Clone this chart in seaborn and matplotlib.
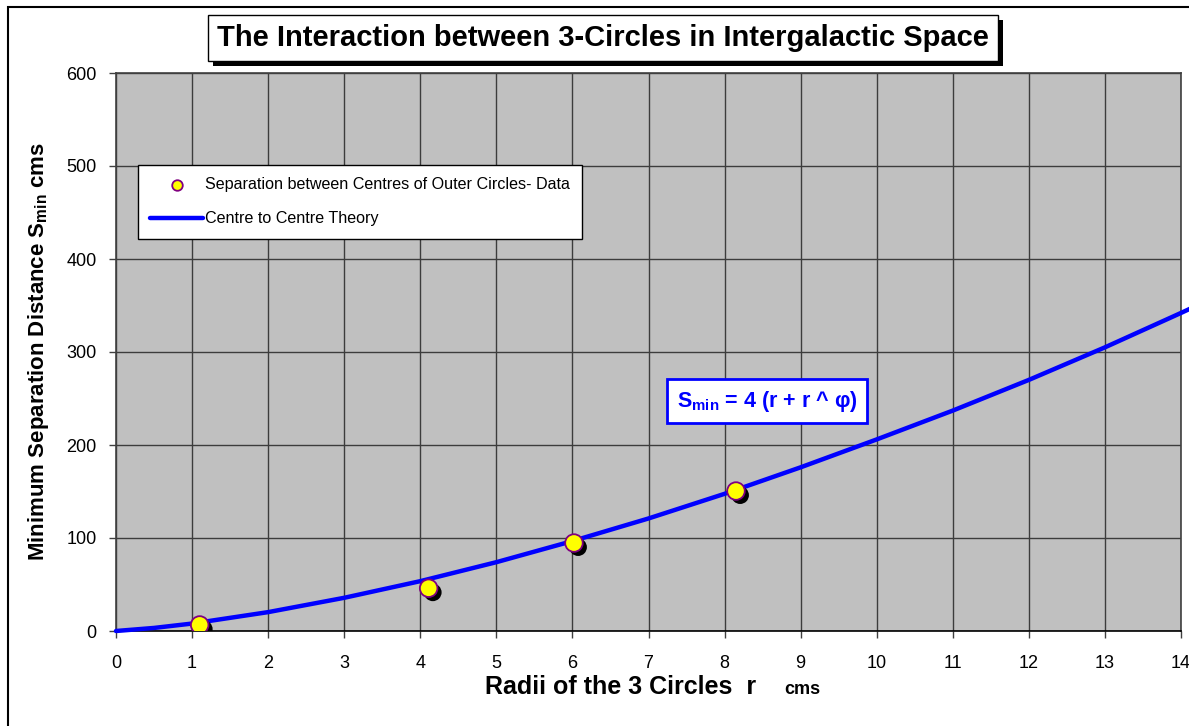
import matplotlib
matplotlib.use("Agg")
import matplotlib.pyplot as plt
import matplotlib.patheffects as pe
from matplotlib.patches import Rectangle
import seaborn as sns

# data
radius_data = [1.10, 4.11, 6.02, 8.15]
sep_data = [6.5, 46, 94.6, 150.5]

# theory curve, read at each radius (extends a little past the right edge)
radius_theory = [0, 0.5, 1, 2, 3, 4, 5, 6, 7, 8, 9, 10, 11, 12, 13, 14, 14.5]
sep_theory = [0, 3.3, 8, 20.3, 35.7, 53.6, 74, 96.7, 121, 147.5, 176, 206, 237, 270, 305, 342, 361]

x_ticks = list(range(0, 15))
y_ticks = [0, 100, 200, 300, 400, 500, 600]

sns.set_style("ticks")
plt.rcParams['font.family'] = ['Liberation Sans', 'DejaVu Sans']
plt.rcParams['mathtext.fontset'] = 'custom'
plt.rcParams['mathtext.rm'] = 'Liberation Sans'
plt.rcParams['mathtext.bf'] = 'Liberation Sans:bold'
plt.rcParams['text.color'] = 'black'
plt.rcParams['axes.labelcolor'] = 'black'
plt.rcParams['xtick.color'] = 'black'
plt.rcParams['ytick.color'] = 'black'

fig = plt.figure(figsize=(11.89, 7.26), dpi=100)
ax = fig.add_axes([116/1189, 1 - 631/726, (1181-116)/1189, (631-73)/726])
ax.set_facecolor('#c0c0c0')

# theory line
sns.lineplot(x=radius_theory, y=sep_theory, ax=ax, color='#0000ff', linewidth=3.2,
             label='Centre to Centre Theory', clip_on=False, zorder=3)

# data points with a drop shadow
pts = sns.scatterplot(x=radius_data, y=sep_data, ax=ax, s=160, color='#ffff00',
                      edgecolor='#800080', linewidth=1.3, zorder=4,
                      label='Separation between Centres of Outer Circles- Data')
pts.collections[-1].set_path_effects([
    pe.SimplePatchShadow(offset=(3, -3), shadow_rgbFace='black', alpha=1),
    pe.Normal()])

ax.set_xlim(0, 14)
ax.set_ylim(0, 600)
ax.set_xticks(x_ticks)
ax.set_yticks(y_ticks)
ax.grid(True, color='#3c3c3c', linewidth=1.0)
ax.set_axisbelow(True)
ax.tick_params(axis='both', labelsize=13, length=5, width=1, color='#404040')
ax.tick_params(axis='x', pad=12)
ax.tick_params(axis='y', pad=9)
for s in ax.spines.values():
    s.set_color('#404040')
    s.set_linewidth(1.2)
ax.spines['bottom'].set_color('black')

ax.set_xlabel('')
ax.set_ylabel(r'Minimum Separation Distance $\mathbf{S_{min}}$ cms',
              fontsize=16, fontweight='bold', labelpad=11)

# x label, with small "cms"
fig.text(485/1189, 1 - 694/726, 'Radii of the 3 Circles  r', fontsize=18,
         fontweight='bold', va='baseline', ha='left')
fig.text(784/1189, 1 - 694/726, 'cms', fontsize=13, fontweight='bold',
         va='baseline', ha='left')

# legend: dots first, then line
handles, labels = ax.get_legend_handles_labels()
leg = ax.legend([handles[1], handles[0]], [labels[1], labels[0]],
                loc='upper left', bbox_to_anchor=(22/1065, 1 - 92/558),
                fontsize=11.6, frameon=True, fancybox=False, framealpha=1,
                edgecolor='black', borderpad=0.75, labelspacing=1.2,
                handlelength=3.3, handletextpad=0.1, borderaxespad=0,
                markerscale=0.6)
leg.get_frame().set_linewidth(1)
for h in leg.legend_handles:
    h.set_path_effects([])

# formula box
ax.text((767-116)/1065, (631-401)/558, r'$\mathbf{S_{min}}$ = 4 (r + r ^ φ)',
        transform=ax.transAxes, fontsize=15.5, fontweight='bold', color='#0000ff',
        ha='center', va='center',
        bbox=dict(boxstyle='square,pad=0.45', facecolor='white', edgecolor='#0000ff',
                  linewidth=2))

# title in a box with shadow
t = fig.text(603/1189, 1 - 38/726, 'The Interaction between 3-Circles in Intergalactic Space',
             fontsize=21, fontweight='bold', ha='center', va='center',
             bbox=dict(boxstyle='square,pad=0.3', facecolor='white', edgecolor='black',
                       linewidth=1))
t.get_bbox_patch().set_path_effects([
    pe.SimplePatchShadow(offset=(3.5, -3.5), shadow_rgbFace='black', alpha=1),
    pe.Normal()])

# outer chart frame
fig.patches.append(Rectangle((8/1189, -0.1), 1.5, 1 - 7/726 + 0.1,
                             transform=fig.transFigure, fill=False,
                             edgecolor='black', linewidth=1.5))

fig.savefig('out.png', dpi=100)
